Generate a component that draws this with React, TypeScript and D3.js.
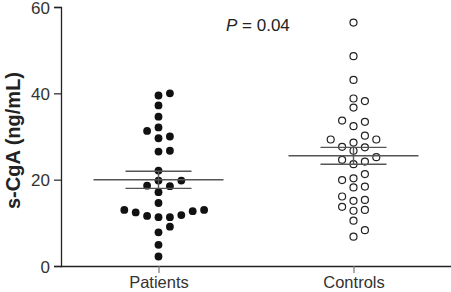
import * as d3 from 'd3';
import { useEffect, useRef } from 'react';

const groups = ['Patients', 'Controls'];

const patients = [
  40.0, 39.5, 37.2, 34.6, 32.1, 31.3, 30.0, 29.6, 26.7, 26.5, 22.1, 19.8, 19.8, 18.6, 18.5,
  17.1, 14.6, 13.0, 13.0, 12.7, 12.4, 11.8, 11.6, 11.3, 11.3, 9.1, 7.8, 4.9, 2.2,
];

const controls = [
  56.4, 48.6, 43.1, 38.8, 38.2, 36.7, 33.7, 33.4, 32.4, 30.2, 29.3, 29.3, 28.6, 27.6, 27.5,
  26.7, 25.2, 24.6, 24.2, 23.6, 21.3, 20.3, 19.9, 18.4, 18.2, 16.1, 15.3, 15.1, 13.7, 13.0,
  12.8, 10.5, 8.3, 6.8,
];

const yTicks = [0, 20, 40, 60];

const W = 451;
const H = 292;

// simple beeswarm: lowest value first, take the slot nearest the centre that is free
const swarm = (values, y, slotW, gap) => {
  const placed = [];
  const order = [0, 1, -1, 2, -2, 3, -3, 4, -4, 5, -5];
  [...values]
    .sort((a, b) => a - b)
    .forEach((v) => {
      const py = y(v);
      const slot =
        order.find((s) => !placed.some((p) => p.slot === s && Math.abs(p.py - py) < gap)) ?? 0;
      placed.push({ v, py, slot, dx: slot * slotW });
    });
  return placed;
};

const App = () => {
  const ref = useRef(null);

  useEffect(() => {
    const svg = d3.select(ref.current);
    svg.selectAll('*').remove();

    const margin = { left: 61, top: 7, bottom: 266 };
    const x = d3.scalePoint().domain(groups).range([margin.left, W]).padding(0.5);
    const y = d3.scaleLinear().domain([0, 60]).range([margin.bottom, margin.top]);
    const axisColor = '#222';
    const font = 'Liberation Sans, Arial, Helvetica, sans-serif';

    // y axis
    const yAxis = svg
      .append('g')
      .attr('transform', `translate(${margin.left},0)`)
      .call(d3.axisLeft(y).tickValues(yTicks).tickSize(7).tickPadding(4));
    yAxis.select('.domain').attr('stroke', axisColor).attr('stroke-width', 1.3);
    yAxis.selectAll('.tick line').attr('stroke', axisColor).attr('stroke-width', 1.2);
    yAxis
      .selectAll('.tick text')
      .attr('fill', '#333')
      .attr('dy', '0.36em')
      .style('font-family', font)
      .style('font-size', '17px');

    // x axis
    const xAxis = svg
      .append('g')
      .attr('transform', `translate(0,${margin.bottom})`)
      .call(d3.axisBottom(x).tickSize(7).tickSizeOuter(0).tickPadding(3));
    xAxis
      .select('.domain')
      .attr('d', `M${margin.left},0.5H${W}`)
      .attr('stroke', axisColor)
      .attr('stroke-width', 1.3);
    xAxis.selectAll('.tick line').attr('stroke', '#777').attr('stroke-width', 1.2);
    xAxis
      .selectAll('.tick text')
      .attr('fill', '#333')
      .style('font-family', font)
      .style('font-size', '16.5px');

    // y title
    svg
      .append('text')
      .attr('transform', `translate(20,${(margin.top + margin.bottom) / 2 + 4}) rotate(-90)`)
      .attr('text-anchor', 'middle')
      .attr('fill', '#222')
      .style('font-family', font)
      .style('font-size', '20px')
      .style('font-weight', 'bold')
      .text('s-CgA (ng/mL)');

    // P value
    const pText = svg
      .append('text')
      .attr('x', 226)
      .attr('y', 30.5)
      .attr('fill', '#222')
      .style('font-family', font)
      .style('font-size', '17px');
    pText.append('tspan').style('font-style', 'italic').text('P');
    pText.append('tspan').text(' = 0.04');

    const series = [
      { name: 'Patients', values: patients, filled: true },
      { name: 'Controls', values: controls, filled: false },
    ];

    series.forEach((s) => {
      const cx = x(s.name);
      const m = d3.mean(s.values);
      const sem = d3.deviation(s.values) / Math.sqrt(s.values.length);
      const g = svg.append('g');

      const pts = swarm(s.values, y, 11.4, 8.2);
      g.selectAll('circle')
        .data(pts)
        .join('circle')
        .attr('cx', (d) => cx + d.dx)
        .attr('cy', (d) => d.py)
        .attr('r', s.filled ? 3.9 : 3.5)
        .attr('fill', s.filled ? '#111' : '#fff')
        .attr('stroke', s.filled ? 'none' : '#222')
        .attr('stroke-width', 1.2);

      const lineColor = '#555';
      g.append('line')
        .attr('x1', cx - 65)
        .attr('x2', cx + 65)
        .attr('y1', y(m))
        .attr('y2', y(m))
        .attr('stroke', lineColor)
        .attr('stroke-width', 1.4);
      [m - sem, m + sem].forEach((v) => {
        g.append('line')
          .attr('x1', cx - 33)
          .attr('x2', cx + 33)
          .attr('y1', y(v))
          .attr('y2', y(v))
          .attr('stroke', lineColor)
          .attr('stroke-width', 1.4);
      });
      g.append('line')
        .attr('x1', cx)
        .attr('x2', cx)
        .attr('y1', y(m - sem))
        .attr('y2', y(m + sem))
        .attr('stroke', lineColor)
        .attr('stroke-width', 1.4);
    });
  }, []);

  return (
    <svg
      ref={ref}
      width={W}
      height={H}
      style={{ position: 'absolute', left: 0, top: 0, background: '#fff' }}
    />
  );
};

export default App;
